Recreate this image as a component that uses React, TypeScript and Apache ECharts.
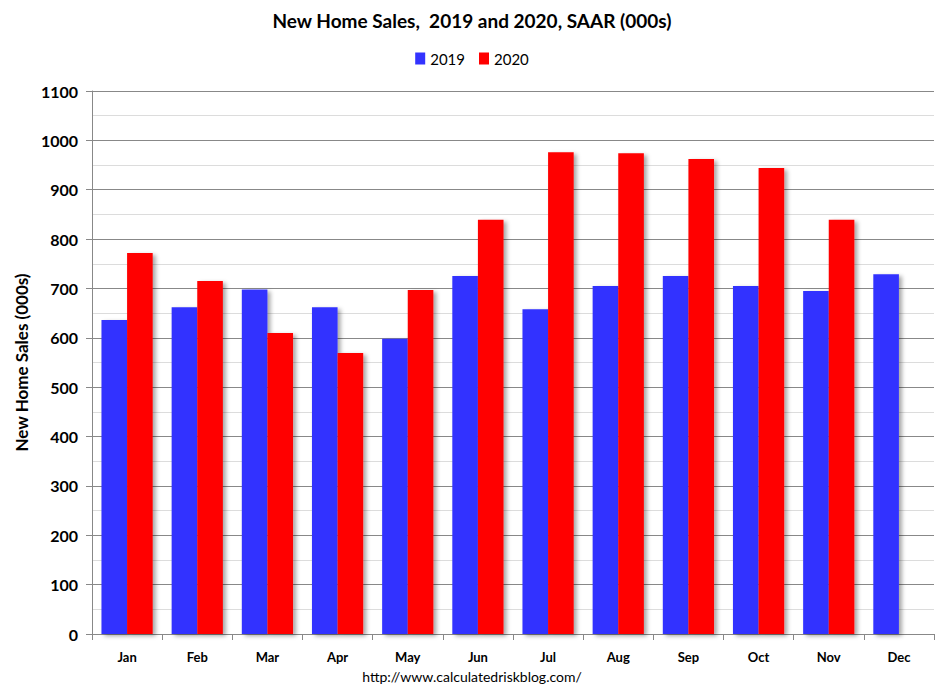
import React, { useEffect, useRef } from "react";
import * as echarts from "echarts";

const months = ["Jan", "Feb", "Mar", "Apr", "May", "Jun", "Jul", "Aug", "Sep", "Oct", "Nov", "Dec"];
const sales2019 = [636, 662, 698, 662, 598, 725, 658, 705, 725, 705, 695, 729];
const sales2020: (number | null)[] = [772, 715, 610, 569, 697, 839, 976, 974, 962, 944, 839, null];

const FONT = "Lato, 'Open Sans', sans-serif";

export default function App() {
  const ref = useRef<HTMLDivElement>(null);
  useEffect(() => {
    if (!ref.current) return;
    const chart = echarts.init(ref.current, undefined, { renderer: "svg" });
    const shadow = { shadowBlur: 4, shadowOffsetX: 3, shadowOffsetY: 2, shadowColor: "rgba(0,0,0,0.35)" };
    chart.setOption({
      animation: false,
      backgroundColor: "#ffffff",
      title: {
        text: "New Home Sales,  2019 and 2020, SAAR (000s)",
        left: "center",
        top: 6,
        textStyle: { fontFamily: FONT, fontSize: 19, fontWeight: "bold", color: "#000" },
      },
      legend: {
        top: 46,
        left: "center",
        itemWidth: 10,
        itemHeight: 12,
        itemGap: 14,
        icon: "rect",
        textStyle: { fontFamily: FONT, fontSize: 15, color: "#000" },
        data: ["2019", "2020"],
      },
      grid: { left: 92, right: 10, top: 91, bottom: 59 },
      xAxis: {
        type: "category",
        data: months,
        axisLine: { lineStyle: { color: "#888", width: 1 } },
        axisTick: { show: true, length: 6, lineStyle: { color: "#888" } },
        axisLabel: { fontFamily: FONT, fontSize: 13, fontWeight: "bold", color: "#000", margin: 16 },
      },
      yAxis: {
        type: "value",
        min: 0,
        max: 1100,
        interval: 100,
        name: "New Home Sales (000s)",
        nameLocation: "middle",
        nameGap: 62,
        nameTextStyle: { fontFamily: FONT, fontSize: 17, fontWeight: "bold", color: "#000" },
        axisLine: { show: true, lineStyle: { color: "#888", width: 1 } },
        axisTick: { show: true, length: 6, lineStyle: { color: "#888" } },
        axisLabel: {
          fontFamily: FONT,
          fontSize: 16,
          fontWeight: "bold",
          color: "#000",
          margin: 14,
          formatter: (v: number) => String(v),
        },
        splitLine: { show: true, lineStyle: { color: "#888", width: 1 } },
        minorTick: { show: false, splitNumber: 2 },
        minorSplitLine: { show: true, lineStyle: { color: "#dcdcdc", width: 1 } },
      },
      series: [
        {
          name: "2019",
          type: "bar",
          data: sales2019,
          barGap: "0%",
          barCategoryGap: "27%",
          itemStyle: { color: "#3333FF", ...shadow },
        },
        {
          name: "2020",
          type: "bar",
          data: sales2020,
          barGap: "0%",
          barCategoryGap: "27%",
          itemStyle: { color: "#FF0000", ...shadow },
        },
      ],
      graphic: [
        {
          type: "text",
          left: "center",
          top: 669,
          style: { text: "http://www.calculatedriskblog.com/", fontFamily: FONT, fontSize: 14, fill: "#000" },
        },
      ],
    });
    return () => chart.dispose();
  }, []);
  return <div ref={ref} style={{ width: 944, height: 693, margin: -8 }} />;
}
